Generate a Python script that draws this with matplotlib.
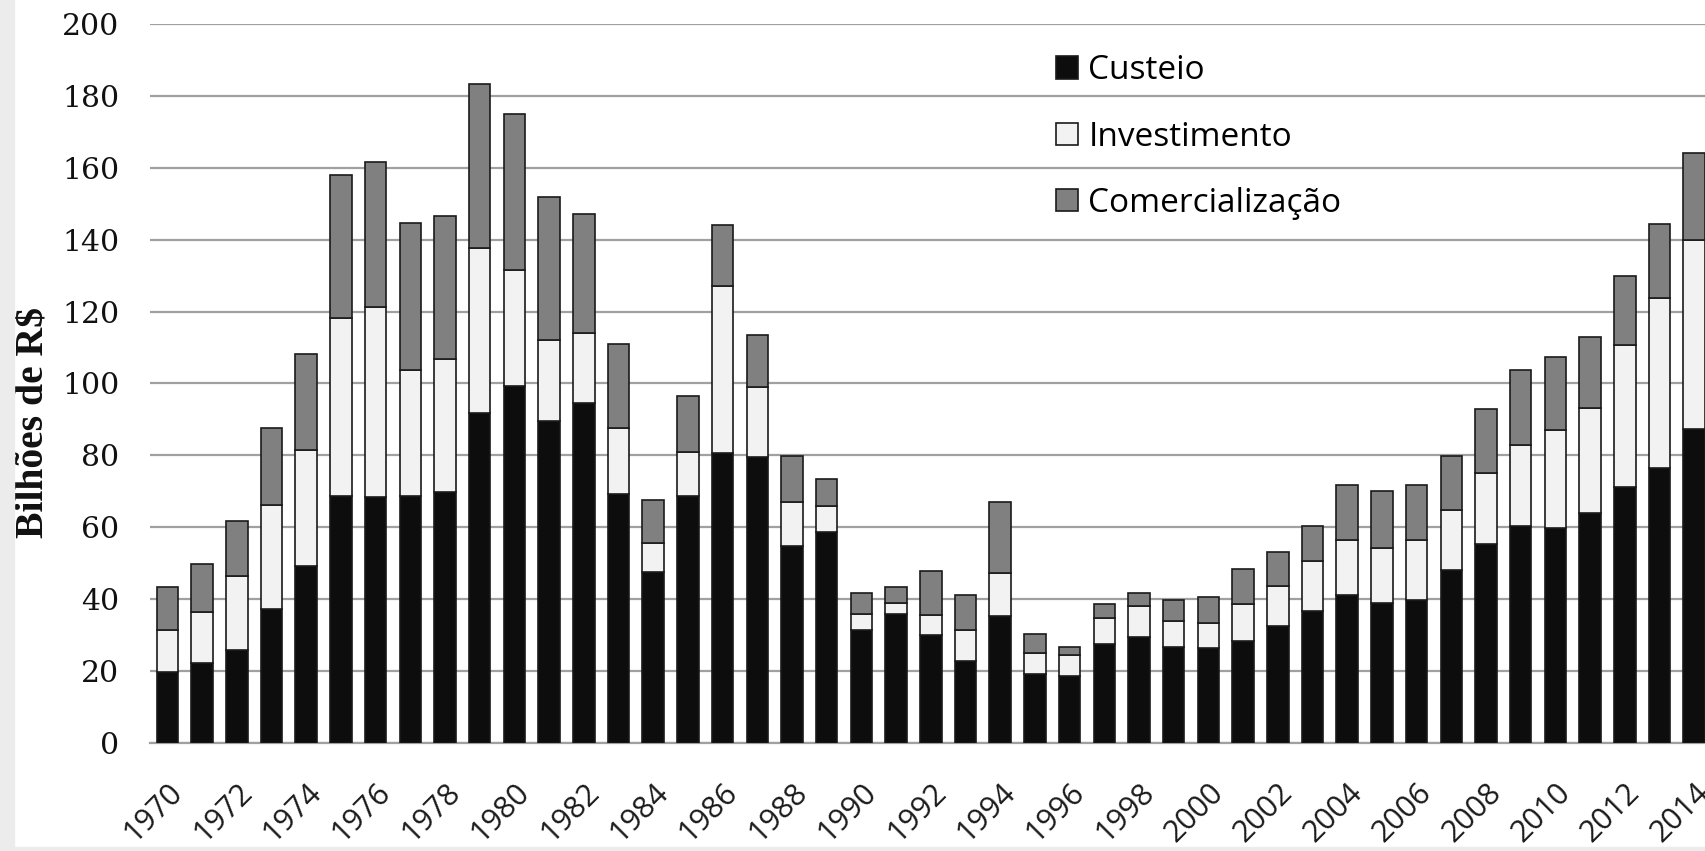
import matplotlib.pyplot as plt
import numpy as np
from matplotlib.patches import Rectangle

years = list(range(1970, 2015))

# credit by purpose, billions of R$ (stacked: custeio, investimento, comercializacao)
custeio = [19.8, 22.3, 25.9, 37.2, 49.1, 68.7, 68.3, 68.7, 69.8, 91.9,
           99.2, 89.5, 94.5, 69.2, 47.5, 68.7, 80.7, 79.6, 54.9, 58.6,
           31.5, 35.8, 30.1, 22.7, 35.2, 19.2, 18.5, 27.4, 29.4, 26.8,
           26.3, 28.5, 32.6, 36.8, 41.3, 38.9, 39.9, 48.2, 55.4, 60.5,
           59.9, 64.0, 71.3, 76.6, 87.4]
investimento = [11.7, 14.2, 20.5, 28.9, 32.4, 49.4, 52.9, 35.0, 36.9, 45.9,
                32.4, 22.5, 19.5, 18.4, 8.2, 12.3, 46.3, 19.4, 12.1, 7.3,
                4.5, 3.2, 5.5, 8.6, 12.1, 5.7, 6.0, 7.5, 8.8, 7.0,
                7.1, 10.1, 11.2, 13.8, 15.3, 15.3, 16.7, 16.6, 19.8, 22.5,
                27.1, 29.3, 39.5, 47.3, 52.4]
comercializacao = [11.9, 13.4, 15.4, 21.6, 26.8, 40.0, 40.5, 40.9, 39.9, 45.5,
                   43.5, 39.8, 33.2, 23.3, 11.9, 15.6, 17.0, 14.5, 12.9, 7.4,
                   5.7, 4.4, 12.3, 9.9, 19.7, 5.5, 2.2, 3.7, 3.4, 5.9,
                   7.2, 9.8, 9.3, 9.7, 15.1, 16.0, 15.1, 15.1, 17.7, 20.7,
                   20.3, 19.7, 19.1, 20.6, 24.2]

tick_years = list(range(1970, 2015, 2))

fig = plt.figure(figsize=(17.05, 8.51), dpi=100)
ax = fig.add_axes([150 / 1705, 1 - 743 / 851, 1 - 150 / 1705, (743 - 24) / 851])

x = np.array(years)
c = np.array(custeio)
i = np.array(investimento)
m = np.array(comercializacao)
w = 0.62
ax.bar(x, c, w, color='#0d0d0d', edgecolor='#1a1a1a', linewidth=1.2, label='Custeio', zorder=3)
ax.bar(x, i, w, bottom=c, color='#f2f2f2', edgecolor='#1a1a1a', linewidth=1.2, label='Investimento', zorder=3)
ax.bar(x, m, w, bottom=c + i, color='#808080', edgecolor='#1a1a1a', linewidth=1.2, label='Comercialização', zorder=3)

ax.set_xlim(1970 - 0.5, 2014.31)
ax.set_ylim(0, 200)
ax.set_yticks(range(0, 201, 20))
ax.yaxis.grid(True, color='#a0a0a0', linewidth=1.6, zorder=0)
ax.set_axisbelow(True)
for s in ['top', 'right', 'left']:
    ax.spines[s].set_visible(False)
ax.spines['bottom'].set_color('#a0a0a0')
ax.spines['bottom'].set_linewidth(1.6)

ax.tick_params(axis='y', length=0, pad=22)
for lab in ax.get_yticklabels():
    lab.set_fontfamily('DejaVu Serif')
    lab.set_fontsize(21.5)
    lab.set_color('#111111')

ax.set_xticks(tick_years)
ax.set_xticklabels([str(y) for y in tick_years], rotation=45, ha='right',
                   rotation_mode='anchor', fontsize=22, family='Open Sans', color='#1a1a1a')
ax.tick_params(axis='x', length=0, pad=25)

fig.text(34 / 1705, 1 - 423 / 851, 'Bilhões de R$', rotation=90, ha='center', va='center',
         family='Liberation Serif', fontweight='bold', fontsize=28.5, color='#111111')

ax.legend(loc='upper left', bbox_to_anchor=(0.5829, 0.958), frameon=False,
          prop={'family': 'Open Sans', 'size': 24}, handlelength=0.66, handleheight=0.66,
          handletextpad=0.3, labelspacing=1.0, borderpad=0, borderaxespad=0)

# slide background around the plot
fig.patch.set_facecolor('white')
fig.add_artist(Rectangle((0, 0), 14 / 1705, 1, transform=fig.transFigure,
                         color='#ececec', zorder=10))
fig.add_artist(Rectangle((0, 0), 1, 4 / 851, transform=fig.transFigure,
                         color='#ececec', zorder=10))

fig.savefig('out.png', dpi=100)
